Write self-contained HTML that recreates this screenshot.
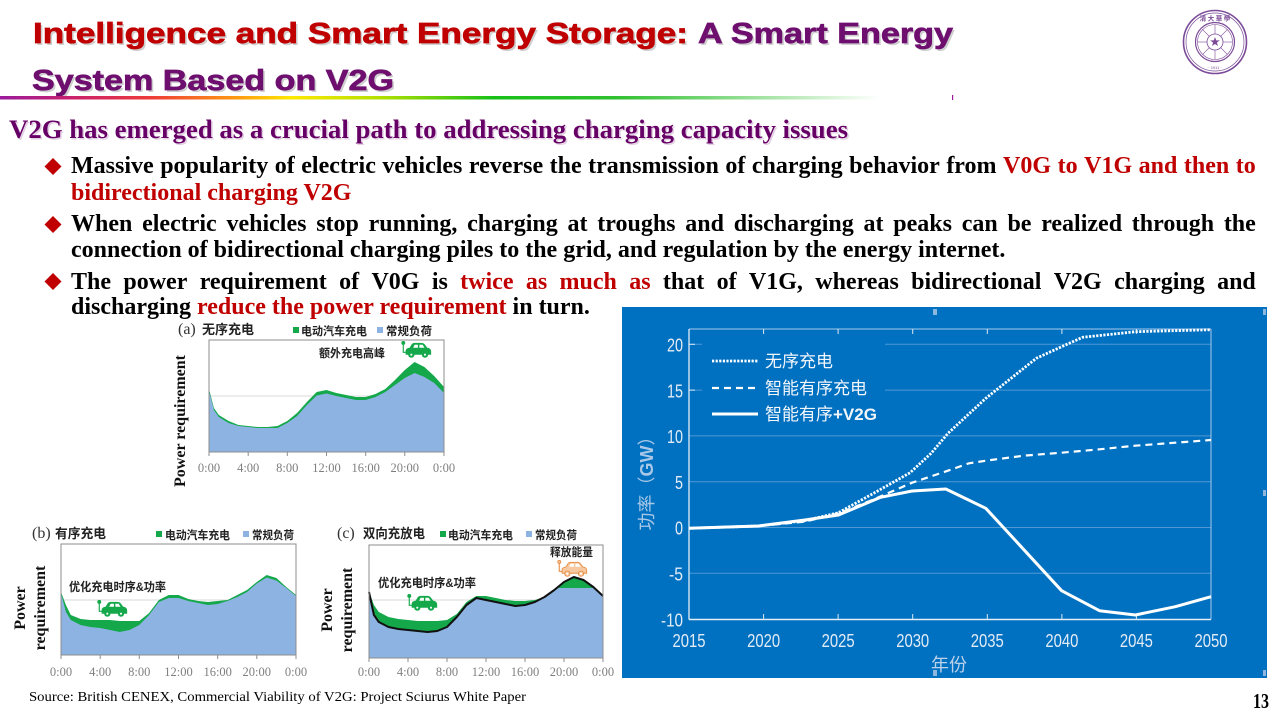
<!DOCTYPE html>
<html>
<head>
<meta charset="utf-8">
<style>
  html, body { margin:0; padding:0; background:#fff; }
  body { width:1280px; height:720px; position:relative; overflow:hidden; }
  svg { position:absolute; left:0; top:0; }
  .b { position:absolute; left:71px; width:1185px; font-family:"Liberation Serif", "Noto Serif CJK SC", serif; font-weight:bold; font-size:24px; line-height:24px; white-space:nowrap; color:#000; }
  .j { display:flex; justify-content:space-between; }
  .r { color:#C00000; }
</style>
</head>
<body>
<svg width="1280" height="720" viewBox="0 0 1280 720" xmlns="http://www.w3.org/2000/svg">
  <defs>
    <linearGradient id="rb" x1="0" y1="0" x2="1" y2="0">
      <stop offset="0" stop-color="#9B1B9B"/>
      <stop offset="0.08" stop-color="#C8206E"/>
      <stop offset="0.17" stop-color="#EE3A3A"/>
      <stop offset="0.27" stop-color="#FF9A10"/>
      <stop offset="0.33" stop-color="#FFE800"/>
      <stop offset="0.43" stop-color="#B4E000"/>
      <stop offset="0.56" stop-color="#18C018"/>
      <stop offset="0.70" stop-color="#30C030"/>
      <stop offset="1" stop-color="#FFFFFF"/>
    </linearGradient>
    <symbol id="car" viewBox="0 0 32 18">
      <circle cx="2" cy="2" r="1.6"/>
      <path d="M2 3 L2 12 L5 12" fill="none" stroke-width="1.2"/>
      <path d="M5 14 L5 10 Q5.5 8 9 7.5 L11.5 3.5 Q12.5 2.5 14 2.5 L21 2.5 Q23 2.5 24 3.5 L27 7.5 Q31 8 31 11 L31 14 Z"/>
      <path d="M12.5 7.2 L14 4 L17.5 4 L17.5 7.2 Z" fill="#fff" stroke="none"/>
      <path d="M19 7.2 L19 4 L22.5 4 L24.5 7.2 Z" fill="#fff" stroke="none"/>
      <circle cx="10.5" cy="14.5" r="2.8"/>
      <circle cx="25" cy="14.5" r="2.8"/>
      <circle cx="10.5" cy="14.5" r="1.1" fill="#fff" stroke="none"/>
      <circle cx="25" cy="14.5" r="1.1" fill="#fff" stroke="none"/>
    </symbol>
  </defs>

  <!-- Title -->
  <g font-family="Liberation Sans, Noto Sans CJK SC, sans-serif" font-weight="bold" font-size="29">
    <text x="35" y="45" fill="#cfcfcf" textLength="655" lengthAdjust="spacingAndGlyphs">Intelligence and Smart Energy Storage:</text>
    <text x="700" y="45" fill="#cfcfcf" textLength="255" lengthAdjust="spacingAndGlyphs">A Smart Energy</text>
    <text x="34" y="92" fill="#cfcfcf" textLength="362" lengthAdjust="spacingAndGlyphs">System Based on V2G</text>
    <text x="33" y="43" fill="#C00000" stroke="#C00000" stroke-width="0.7" textLength="655" lengthAdjust="spacingAndGlyphs">Intelligence and Smart Energy Storage:</text>
    <text x="698" y="43" fill="#6E0E6E" stroke="#6E0E6E" stroke-width="0.7" textLength="255" lengthAdjust="spacingAndGlyphs">A Smart Energy</text>
    <text x="32" y="90" fill="#6E0E6E" stroke="#6E0E6E" stroke-width="0.7" textLength="362" lengthAdjust="spacingAndGlyphs">System Based on V2G</text>
  </g>
  <rect x="0" y="96" width="880" height="3.5" fill="url(#rb)"/>
  <rect x="952" y="95" width="1.2" height="5" fill="#9B1B9B"/>

  <!-- Logo -->
  <g transform="translate(1215,42)" fill="none" stroke="#7B4B98">
    <circle r="31.5" stroke-width="1.6"/>
    <circle r="29" stroke-width="0.7"/>
    <circle r="19.5" stroke-width="1.2"/>
    <circle r="17.5" stroke-width="0.6"/>
    <circle r="8" stroke-width="0.8"/>
    <g stroke-width="0.6">
      <line x1="0" y1="-17.5" x2="0" y2="-8"/><line x1="0" y1="17.5" x2="0" y2="8"/>
      <line x1="-17.5" y1="0" x2="-8" y2="0"/><line x1="17.5" y1="0" x2="8" y2="0"/>
      <line x1="-12.4" y1="-12.4" x2="-5.7" y2="-5.7"/><line x1="12.4" y1="12.4" x2="5.7" y2="5.7"/>
      <line x1="12.4" y1="-12.4" x2="5.7" y2="-5.7"/><line x1="-12.4" y1="12.4" x2="-5.7" y2="5.7"/>
    </g>
    <polygon points="0,-5 1.2,-1.6 4.8,-1.6 1.9,0.6 3,4 0,2 -3,4 -1.9,0.6 -4.8,-1.6 -1.2,-1.6" fill="#7B4B98" stroke="none"/>
    <text x="0" y="-21.5" font-size="6.5" font-family="Noto Sans CJK SC, sans-serif" font-weight="bold" fill="#7B4B98" stroke="none" text-anchor="middle">清 大 華 學</text>
    <text x="0" y="27" font-size="4" font-family="Liberation Sans, sans-serif" fill="#7B4B98" stroke="none" text-anchor="middle">· 1911 ·</text>
  </g>

  <!-- Subtitle -->
  <text x="10.5" y="139.5" font-family="Liberation Serif, serif" font-weight="bold" font-size="26.67" fill="#e2cfe2" textLength="839" lengthAdjust="spacingAndGlyphs">V2G has emerged as a crucial path to addressing charging capacity issues</text>
  <text x="9" y="138" font-family="Liberation Serif, serif" font-weight="bold" font-size="26.67" fill="#660066" textLength="839" lengthAdjust="spacingAndGlyphs">V2G has emerged as a crucial path to addressing charging capacity issues</text>

  <!-- Bullet diamonds -->
  <g fill="#C00000">
    <polygon points="53,158 61.5,166.5 53,175 44.5,166.5"/>
    <polygon points="53,216 61.5,224.5 53,233 44.5,224.5"/>
    <polygon points="53,273 61.5,281.5 53,290 44.5,281.5"/>
  </g>

  <!-- ===== Chart (a) ===== -->
  <g>
    <text x="178" y="334" font-family="Liberation Serif, serif" font-size="16" fill="#333">(a)</text>
    <text x="202" y="334" font-family="Liberation Sans, Noto Sans CJK SC, sans-serif" font-weight="bold" font-size="13" fill="#222" textLength="52" lengthAdjust="spacingAndGlyphs">无序充电</text>
    <rect x="293" y="327" width="6" height="6" fill="#14A84B"/>
    <text x="301" y="335" font-family="Liberation Sans, Noto Sans CJK SC, sans-serif" font-weight="bold" font-size="11.5" fill="#222" textLength="66" lengthAdjust="spacingAndGlyphs">电动汽车充电</text>
    <rect x="377" y="327" width="6" height="6" fill="#8DB3E2"/>
    <text x="386" y="335" font-family="Liberation Sans, Noto Sans CJK SC, sans-serif" font-weight="bold" font-size="11.5" fill="#222" textLength="46" lengthAdjust="spacingAndGlyphs">常规负荷</text>

    <line x1="209" y1="396" x2="444" y2="396" stroke="#d9d9d9" stroke-width="1"/>
    <polygon fill="#14A84B" points="209,452 209,389 213.9,408 218.8,415 228.6,421 238.4,425 248.2,426 258,427 267.8,427 277.5,426 287.3,421 297.1,413 306.9,402 316.7,392 326.5,390 336.3,393 346.1,395 355.9,397 365.7,397 375.5,394 385.3,389 395,380 404.8,370 414.6,362 424.4,367 434.2,376 444,387 444,452"/>
    <polygon fill="#8DB3E2" points="209,452 209,391 213.9,410 218.8,417 228.6,423 238.4,426 248.2,427 258,428 267.8,428 277.5,428 287.3,423 297.1,416 306.9,405 316.7,395.5 326.5,393.5 336.3,396 346.1,398 355.9,400 365.7,400 375.5,397 385.3,392 395,385 404.8,378 414.6,373 424.4,377 434.2,383 444,393 444,452"/>
    <rect x="209" y="340" width="235" height="112" fill="none" stroke="#8c8c8c" stroke-width="1"/>
    <g stroke="#8c8c8c" stroke-width="1">
      <line x1="209" y1="452" x2="209" y2="456"/><line x1="248.2" y1="452" x2="248.2" y2="456"/><line x1="287.3" y1="452" x2="287.3" y2="456"/><line x1="326.5" y1="452" x2="326.5" y2="456"/><line x1="365.7" y1="452" x2="365.7" y2="456"/><line x1="404.8" y1="452" x2="404.8" y2="456"/><line x1="444" y1="452" x2="444" y2="456"/>
    </g>
    <g font-family="Liberation Serif, serif" font-size="12.5" fill="#7f7f7f" text-anchor="middle">
      <text x="209" y="472">0:00</text><text x="248.2" y="472">4:00</text><text x="287.3" y="472">8:00</text><text x="326.5" y="472">12:00</text><text x="365.7" y="472">16:00</text><text x="404.8" y="472">20:00</text><text x="444" y="472">0:00</text>
    </g>
    <text x="319" y="357" font-family="Liberation Sans, Noto Sans CJK SC, sans-serif" font-weight="bold" font-size="11.5" fill="#222" textLength="66" lengthAdjust="spacingAndGlyphs">额外充电高峰</text>
    <use href="#car" x="401" y="341" width="31" height="17" fill="#14A84B" stroke="#14A84B"/>
    <text transform="translate(185,421) rotate(-90)" font-family="Liberation Serif, serif" font-weight="bold" font-size="16" fill="#111" text-anchor="middle">Power requirement</text>
  </g>

  <!-- ===== Chart (b) ===== -->
  <g>
    <text x="32" y="538" font-family="Liberation Serif, serif" font-size="16" fill="#333">(b)</text>
    <text x="55" y="538" font-family="Liberation Sans, Noto Sans CJK SC, sans-serif" font-weight="bold" font-size="13" fill="#222" textLength="51" lengthAdjust="spacingAndGlyphs">有序充电</text>
    <rect x="156" y="531" width="6" height="6" fill="#14A84B"/>
    <text x="165" y="539" font-family="Liberation Sans, Noto Sans CJK SC, sans-serif" font-weight="bold" font-size="11.5" fill="#222" textLength="65" lengthAdjust="spacingAndGlyphs">电动汽车充电</text>
    <rect x="243" y="531" width="6" height="6" fill="#8DB3E2"/>
    <text x="252" y="539" font-family="Liberation Sans, Noto Sans CJK SC, sans-serif" font-weight="bold" font-size="11.5" fill="#222" textLength="42" lengthAdjust="spacingAndGlyphs">常规负荷</text>

    <line x1="61" y1="600" x2="296" y2="600" stroke="#d9d9d9" stroke-width="1"/>
    <polygon fill="#14A84B" points="61,655 61,592 65.9,605 70.8,615 80.6,619 90.4,620 100.2,620 110,620 119.8,621 129.5,621 139.3,621 149.1,613 158.9,600 168.7,595 178.5,595 188.3,599 198.1,601 207.9,602 217.7,601 227.5,600 237.3,595 247,590 256.8,582 266.6,575 276.4,578 286.2,587 296,595 296,655"/>
    <polygon fill="#8DB3E2" points="61,655 61,593 65.9,612 70.8,620 80.6,625 90.4,627 100.2,628 110,630 119.8,632 129.5,630 139.3,625 149.1,615 158.9,602 168.7,598 178.5,598 188.3,601 198.1,603 207.9,605 217.7,604 227.5,601 237.3,597 247,592 256.8,583.5 266.6,577.5 276.4,580.5 286.2,588 296,596 296,655"/>
    <rect x="61" y="544" width="235" height="111" fill="none" stroke="#8c8c8c" stroke-width="1"/>
    <g stroke="#8c8c8c" stroke-width="1">
      <line x1="61" y1="655" x2="61" y2="659"/><line x1="100.2" y1="655" x2="100.2" y2="659"/><line x1="139.3" y1="655" x2="139.3" y2="659"/><line x1="178.5" y1="655" x2="178.5" y2="659"/><line x1="217.7" y1="655" x2="217.7" y2="659"/><line x1="256.8" y1="655" x2="256.8" y2="659"/><line x1="296" y1="655" x2="296" y2="659"/>
    </g>
    <g font-family="Liberation Serif, serif" font-size="12.5" fill="#7f7f7f" text-anchor="middle">
      <text x="61" y="676">0:00</text><text x="100.2" y="676">4:00</text><text x="139.3" y="676">8:00</text><text x="178.5" y="676">12:00</text><text x="217.7" y="676">16:00</text><text x="256.8" y="676">20:00</text><text x="296" y="676">0:00</text>
    </g>
    <text x="69" y="591" font-family="Liberation Sans, Noto Sans CJK SC, sans-serif" font-weight="bold" font-size="12" fill="#222" textLength="97" lengthAdjust="spacingAndGlyphs">优化充电时序&amp;功率</text>
    <use href="#car" x="97" y="600" width="31" height="17" fill="#14A84B" stroke="#14A84B"/>
    <text transform="translate(25,608) rotate(-90)" font-family="Liberation Serif, serif" font-weight="bold" font-size="16" fill="#111" text-anchor="middle">Power</text>
    <text transform="translate(45,608) rotate(-90)" font-family="Liberation Serif, serif" font-weight="bold" font-size="16" fill="#111" text-anchor="middle">requirement</text>
  </g>

  <!-- ===== Chart (c) ===== -->
  <g>
    <text x="337" y="538" font-family="Liberation Serif, serif" font-size="16" fill="#333">(c)</text>
    <text x="363" y="538" font-family="Liberation Sans, Noto Sans CJK SC, sans-serif" font-weight="bold" font-size="13" fill="#222" textLength="62" lengthAdjust="spacingAndGlyphs">双向充放电</text>
    <rect x="440" y="531" width="6" height="6" fill="#14A84B"/>
    <text x="448" y="539" font-family="Liberation Sans, Noto Sans CJK SC, sans-serif" font-weight="bold" font-size="11.5" fill="#222" textLength="65" lengthAdjust="spacingAndGlyphs">电动汽车充电</text>
    <rect x="526" y="531" width="6" height="6" fill="#8DB3E2"/>
    <text x="535" y="539" font-family="Liberation Sans, Noto Sans CJK SC, sans-serif" font-weight="bold" font-size="11.5" fill="#222" textLength="42" lengthAdjust="spacingAndGlyphs">常规负荷</text>

    <line x1="369" y1="600" x2="603" y2="600" stroke="#d9d9d9" stroke-width="1"/>
    <polygon fill="#14A84B" points="369,658 369,591 373.9,605 378.8,612 388.5,617 398.3,619 408,620 417.8,621 427.5,621 437.3,621 447,620 456.8,614 466.5,602 476.3,596 486,596 495.8,598 505.5,600 515.3,601 525,601 534.8,600 544.5,597 554.3,590 564,582 573.8,577 583.5,580 593.3,587 603,596 603,658"/>
    <polygon fill="#8DB3E2" points="369,658 369,592 373.9,615 378.8,622 388.5,627 398.3,629 408,630 417.8,631 427.5,632 437.3,631 447,627 456.8,617 466.5,605 476.3,598 486,600 495.8,602 505.5,604 515.3,606 525,605 534.8,602 544.5,597 554.3,590 556.7,588 594.3,588 603,596 603,658"/>
    <polyline fill="none" stroke="#111" stroke-width="2" stroke-linejoin="round" points="369,592 373.9,615 378.8,622 388.5,627 398.3,629 408,630 417.8,631 427.5,632 437.3,631 447,627 456.8,617 466.5,605 476.3,598 486,600 495.8,602 505.5,604 515.3,606 525,605 534.8,602 544.5,597 554.3,590 564,582 573.8,577 583.5,580 593.3,587 603,596"/>
    <rect x="369" y="545" width="234" height="113" fill="none" stroke="#8c8c8c" stroke-width="1"/>
    <g stroke="#8c8c8c" stroke-width="1">
      <line x1="369" y1="658" x2="369" y2="662"/><line x1="408" y1="658" x2="408" y2="662"/><line x1="447" y1="658" x2="447" y2="662"/><line x1="486" y1="658" x2="486" y2="662"/><line x1="525" y1="658" x2="525" y2="662"/><line x1="564" y1="658" x2="564" y2="662"/><line x1="603" y1="658" x2="603" y2="662"/>
    </g>
    <g font-family="Liberation Serif, serif" font-size="12.5" fill="#7f7f7f" text-anchor="middle">
      <text x="369" y="676">0:00</text><text x="408" y="676">4:00</text><text x="447" y="676">8:00</text><text x="486" y="676">12:00</text><text x="525" y="676">16:00</text><text x="564" y="676">20:00</text><text x="603" y="676">0:00</text>
    </g>
    <text x="378" y="587" font-family="Liberation Sans, Noto Sans CJK SC, sans-serif" font-weight="bold" font-size="12" fill="#222" textLength="98" lengthAdjust="spacingAndGlyphs">优化充电时序&amp;功率</text>
    <use href="#car" x="407" y="594" width="31" height="17" fill="#14A84B" stroke="#14A84B"/>
    <text x="550" y="556" font-family="Liberation Sans, Noto Sans CJK SC, sans-serif" font-weight="bold" font-size="11.5" fill="#222" textLength="43" lengthAdjust="spacingAndGlyphs">释放能量</text>
    <use href="#car" x="557" y="560" width="31" height="17" fill="#F8C9A0" stroke="#E8904A"/>
    <text transform="translate(332,610) rotate(-90)" font-family="Liberation Serif, serif" font-weight="bold" font-size="16" fill="#111" text-anchor="middle">Power</text>
    <text transform="translate(352,610) rotate(-90)" font-family="Liberation Serif, serif" font-weight="bold" font-size="16" fill="#111" text-anchor="middle">requirement</text>
  </g>

  <!-- ===== Right chart (blue) ===== -->
  <g>
    <rect x="622" y="307" width="645" height="371" fill="#0070C0"/>
    <rect x="933" y="309" width="4" height="6" fill="#8fb6dd"/>
    <rect x="1263" y="309" width="3" height="6" fill="#8fb6dd"/>
    <rect x="1263" y="490" width="3" height="6" fill="#8fb6dd"/>
    <rect x="1263" y="670" width="3" height="6" fill="#8fb6dd"/>
    <rect x="933" y="670" width="4" height="6" fill="#8fb6dd"/>

    <!-- grid -->
    <g stroke="#4f98d4" stroke-width="1">
      <line x1="689" y1="344.3" x2="1211" y2="344.3"/>
      <line x1="689" y1="390.1" x2="1211" y2="390.1"/>
      <line x1="689" y1="435.9" x2="1211" y2="435.9"/>
      <line x1="689" y1="481.7" x2="1211" y2="481.7"/>
      <line x1="689" y1="527.5" x2="1211" y2="527.5"/>
      <line x1="689" y1="573.3" x2="1211" y2="573.3"/>
    </g>
    <!-- legend mask -->
    <rect x="702" y="337" width="183" height="92" fill="#0070C0"/>
    <!-- frame -->
    <line x1="689" y1="329" x2="1211" y2="329" stroke="#a9c9ea" stroke-width="1"/>
    <line x1="1211" y1="329" x2="1211" y2="619.5" stroke="#a9c9ea" stroke-width="1"/>
    <line x1="689" y1="329" x2="689" y2="619.5" stroke="#e4eef8" stroke-width="1.3"/>
    <line x1="689" y1="619.5" x2="1211" y2="619.5" stroke="#e4eef8" stroke-width="1.5"/>
    <!-- ticks -->
    <g stroke="#dbe8f5" stroke-width="1">
      <line x1="763.6" y1="619.5" x2="763.6" y2="614"/><line x1="838.1" y1="619.5" x2="838.1" y2="614"/><line x1="912.7" y1="619.5" x2="912.7" y2="614"/><line x1="987.3" y1="619.5" x2="987.3" y2="614"/><line x1="1061.9" y1="619.5" x2="1061.9" y2="614"/><line x1="1136.4" y1="619.5" x2="1136.4" y2="614"/>
      <line x1="763.6" y1="329" x2="763.6" y2="334"/><line x1="838.1" y1="329" x2="838.1" y2="334"/><line x1="912.7" y1="329" x2="912.7" y2="334"/><line x1="987.3" y1="329" x2="987.3" y2="334"/><line x1="1061.9" y1="329" x2="1061.9" y2="334"/><line x1="1136.4" y1="329" x2="1136.4" y2="334"/>
      <line x1="689" y1="344.3" x2="695" y2="344.3"/><line x1="689" y1="390.1" x2="695" y2="390.1"/>
    </g>

    <!-- series -->
    <polyline fill="none" stroke="#ffffff" stroke-width="2.8" stroke-dasharray="2.2,1.4" stroke-linejoin="round" points="689,528.3 758.5,526 804.8,520.7 838.5,512.7 876.4,491.7 910.1,472.7 931.1,453.3 948,433.3 985.8,398.3 1036.3,358.3 1061.6,346.7 1082.6,337.3 1135.3,331.7 1211,329.7"/>
    <polyline fill="none" stroke="#ffffff" stroke-width="2.2" stroke-dasharray="7,5" stroke-linejoin="round" points="689,528.3 758.5,526 804.8,521.7 838.5,513.3 872.2,500 912.1,482.7 947.9,470.7 968.9,463.3 985.8,460.7 1023.7,455.7 1061.6,452.7 1099.5,449.3 1135.3,445.7 1175.3,442.7 1211,440"/>
    <polyline fill="none" stroke="#ffffff" stroke-width="3" stroke-linejoin="round" points="689,528.3 758.5,526 804.8,520 838.5,515 880.6,497.3 912.1,491 945.8,489 985.8,508.3 1061.6,590.7 1099.5,610.7 1135.3,615 1175.3,606.7 1211,596.7"/>

    <!-- legend -->
    <line x1="712" y1="361" x2="758" y2="361" stroke="#fff" stroke-width="2.8" stroke-dasharray="2.2,1.4"/>
    <line x1="712" y1="388" x2="758" y2="388" stroke="#fff" stroke-width="2.2" stroke-dasharray="7,5"/>
    <line x1="712" y1="414" x2="758" y2="414" stroke="#fff" stroke-width="3"/>
    <g font-family="Liberation Sans, Noto Sans CJK SC, sans-serif" font-size="17" fill="#f2f6fb">
      <text x="765" y="367">无序充电</text>
      <text x="765" y="394">智能有序充电</text>
      <text x="765" y="420">智能有序<tspan font-weight="bold">+V2G</tspan></text>
    </g>

    <!-- y tick labels -->
    <g font-family="Liberation Sans, sans-serif" font-size="18" fill="#e2ecf6" text-anchor="end">
      <text x="683" y="351.5" textLength="16" lengthAdjust="spacingAndGlyphs">20</text>
      <text x="683" y="397.3" textLength="16" lengthAdjust="spacingAndGlyphs">15</text>
      <text x="683" y="443.1" textLength="16" lengthAdjust="spacingAndGlyphs">10</text>
      <text x="683" y="488.9" textLength="8" lengthAdjust="spacingAndGlyphs">5</text>
      <text x="683" y="534.7" textLength="8" lengthAdjust="spacingAndGlyphs">0</text>
      <text x="683" y="580.5" textLength="14" lengthAdjust="spacingAndGlyphs">-5</text>
      <text x="683" y="626.3" textLength="22" lengthAdjust="spacingAndGlyphs">-10</text>
    </g>
    <!-- x tick labels -->
    <g font-family="Liberation Sans, sans-serif" font-size="18" fill="#e2ecf6" text-anchor="middle">
      <text x="689" y="647" textLength="33" lengthAdjust="spacingAndGlyphs">2015</text>
      <text x="763.6" y="647" textLength="33" lengthAdjust="spacingAndGlyphs">2020</text>
      <text x="838.1" y="647" textLength="33" lengthAdjust="spacingAndGlyphs">2025</text>
      <text x="912.7" y="647" textLength="33" lengthAdjust="spacingAndGlyphs">2030</text>
      <text x="987.3" y="647" textLength="33" lengthAdjust="spacingAndGlyphs">2035</text>
      <text x="1061.9" y="647" textLength="33" lengthAdjust="spacingAndGlyphs">2040</text>
      <text x="1136.4" y="647" textLength="33" lengthAdjust="spacingAndGlyphs">2045</text>
      <text x="1211" y="647" textLength="33" lengthAdjust="spacingAndGlyphs">2050</text>
    </g>
    <text x="949" y="671" font-family="Liberation Sans, Noto Sans CJK SC, sans-serif" font-size="18" fill="#bcd2ea" text-anchor="middle">年份</text>
    <text transform="translate(653,479) rotate(-90)" font-family="Liberation Sans, Noto Sans CJK SC, sans-serif" font-size="18" fill="#a9c8e8" text-anchor="middle">功率（<tspan font-weight="bold">GW</tspan>）</text>
  </g>

  <!-- Source and page number -->
  <text x="29" y="701" font-family="Liberation Serif, serif" font-size="14" fill="#000" textLength="497" lengthAdjust="spacingAndGlyphs">Source: British CENEX, Commercial Viability of V2G: Project Sciurus White Paper</text>
  <text x="1253" y="708" font-family="Liberation Serif, serif" font-weight="bold" font-size="21" fill="#000" textLength="16" lengthAdjust="spacingAndGlyphs">13</text>
</svg>

<!-- Bullet text -->
<div class="b j" style="top:154px;"><span>Massive</span><span>popularity</span><span>of</span><span>electric</span><span>vehicles</span><span>reverse</span><span>the</span><span>transmission</span><span>of</span><span>charging</span><span>behavior</span><span>from</span><span class="r">V0G</span><span class="r">to</span><span class="r">V1G</span><span class="r">and</span><span class="r">then</span><span class="r">to</span></div>
<div class="b" style="top:181px;"><span class="r">bidirectional charging V2G</span></div>
<div class="b j" style="top:212px;"><span>When</span><span>electric</span><span>vehicles</span><span>stop</span><span>running,</span><span>charging</span><span>at</span><span>troughs</span><span>and</span><span>discharging</span><span>at</span><span>peaks</span><span>can</span><span>be</span><span>realized</span><span>through</span><span>the</span></div>
<div class="b" style="top:238px;">connection of bidirectional charging piles to the grid, and regulation by the energy internet.</div>
<div class="b j" style="top:270px;"><span>The</span><span>power</span><span>requirement</span><span>of</span><span>V0G</span><span>is</span><span class="r">twice</span><span class="r">as</span><span class="r">much</span><span class="r">as</span><span>that</span><span>of</span><span>V1G,</span><span>whereas</span><span>bidirectional</span><span>V2G</span><span>charging</span><span>and</span></div>
<div class="b" style="top:295px;">discharging <span class="r">reduce the power requirement</span> in turn.</div>
</body>
</html>
